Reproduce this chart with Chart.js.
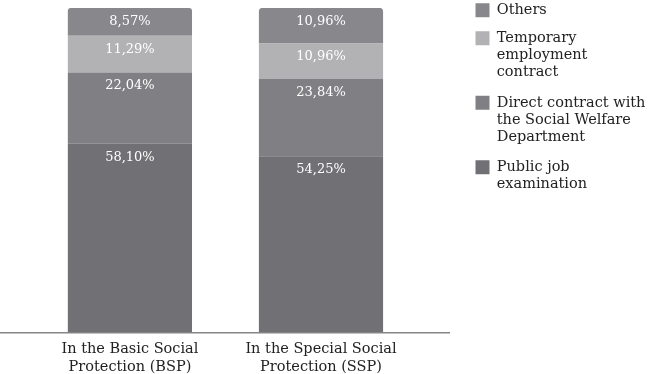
<!DOCTYPE html>
<html>
<head>
<meta charset="utf-8">
<script src="https://cdn.jsdelivr.net/npm/chart.js@4.4.1/dist/chart.umd.min.js"></script>
<style>
html,body{margin:0;padding:0;background:#fff;}
#wrap{width:650px;height:374px;position:relative;}
</style>
</head>
<body>
<div id="wrap"><canvas id="c" width="650" height="374"></canvas></div>
<script>
// ---- data ----
const categories = [
  ['In the Basic Social', 'Protection (BSP)'],
  ['In the Special Social', 'Protection (SSP)']
];
const seriesNames = [
  'Public job examination',
  'Direct contract with the Social Welfare Department',
  'Temporary employment contract',
  'Others'
];
const legendLines = [
  ['Public job', 'examination'],
  ['Direct contract with', 'the Social Welfare', 'Department'],
  ['Temporary', 'employment', 'contract'],
  'Others'
];
const publicJob      = [58.10, 54.25];
const directContract = [22.04, 23.84];
const temporary      = [11.29, 10.96];
const others         = [8.57, 10.96];

const seriesValues = [publicJob, directContract, temporary, others];
const colors = ['#717175', '#808084', '#b2b2b4', '#88888c'];

const FONT = '"DejaVu Serif", "Liberation Serif", serif';
const LEGEND_WIDTH = 201;   // space reserved on the right for the legend
const LEGEND_LEFT = 462;
const LEGEND_TOP = -10.5;

const valueLabels = {
  id: 'valueLabels',
  afterDatasetsDraw(chart) {
    const ctx = chart.ctx;
    ctx.save();
    ctx.font = '13px ' + FONT;
    ctx.fillStyle = '#ffffff';
    ctx.textAlign = 'center';
    ctx.textBaseline = 'middle';
    chart.data.datasets.forEach((ds, di) => {
      chart.getDatasetMeta(di).data.forEach((bar, i) => {
        const v = ds.data[i].y;
        ctx.fillText(v.toFixed(2).replace('.', ',') + '%', bar.x, bar.y + 13.5);
      });
    });
    ctx.restore();
  }
};

const legendPlacement = {
  id: 'legendPlacement',
  beforeLayout(chart) {
    const lg = chart.legend;
    if (lg && !lg._patchedFit) {
      const orig = lg.fit.bind(lg);
      lg.fit = function () { orig(); this.width = LEGEND_WIDTH; };
      lg._patchedFit = true;
    }
  },
  afterLayout(chart) {
    const lg = chart.legend;
    const dy = LEGEND_TOP - lg.top;
    lg.left = LEGEND_LEFT;
    lg.right = 660;
    lg.width = lg.right - lg.left;
    lg.top += dy; lg.bottom += dy;
  }
};

const datasets = seriesValues.map((vals, si) => ({
  label: seriesNames[si],
  data: vals.map((v, i) => ({ x: i, y: v })),
  backgroundColor: colors[si],
  borderWidth: 0,
  borderRadius: si === seriesValues.length - 1 ? { topLeft: 3, topRight: 3, bottomLeft: 0, bottomRight: 0 } : 0,
  categoryPercentage: 1,
  barPercentage: 0.65
}));

new Chart(document.getElementById('c'), {
  type: 'bar',
  data: { datasets },
  plugins: [valueLabels, legendPlacement],
  options: {
    responsive: false,
    animation: false,
    devicePixelRatio: 1,
    layout: { padding: { top: 8, left: 0, right: 0, bottom: -10.5 } },
    plugins: {
      tooltip: { enabled: false },
      legend: {
        position: 'right',
        align: 'start',
        reverse: true,
        labels: {
          boxWidth: 14,
          boxHeight: 14,
          padding: 13.5,
          color: '#222',
          font: { family: FONT, size: 14.5, lineHeight: '17px' },
          generateLabels(chart) {
            const items = Chart.defaults.plugins.legend.labels.generateLabels(chart);
            items.forEach(it => { it.text = legendLines[it.datasetIndex]; it.lineWidth = 0; });
            return items;
          }
        }
      }
    },
    scales: {
      x: {
        type: 'linear',
        stacked: true,
        offset: false,
        min: -0.68,
        max: 1.67,
        afterBuildTicks(axis) { axis.ticks = categories.map((c, i) => ({ value: i })); },
        ticks: {
          callback: (v) => categories[v],
          color: '#222',
          padding: 8,
          maxRotation: 0,
          autoSkip: false,
          font: { family: FONT, size: 14.5, lineHeight: 1.25 }
        },
        grid: { display: false, drawTicks: false },
        border: { display: true, color: '#858585', width: 1.5 }
      },
      y: {
        stacked: true,
        display: false,
        min: 0,
        max: 100
      }
    }
  }
});
</script>
</body>
</html>
